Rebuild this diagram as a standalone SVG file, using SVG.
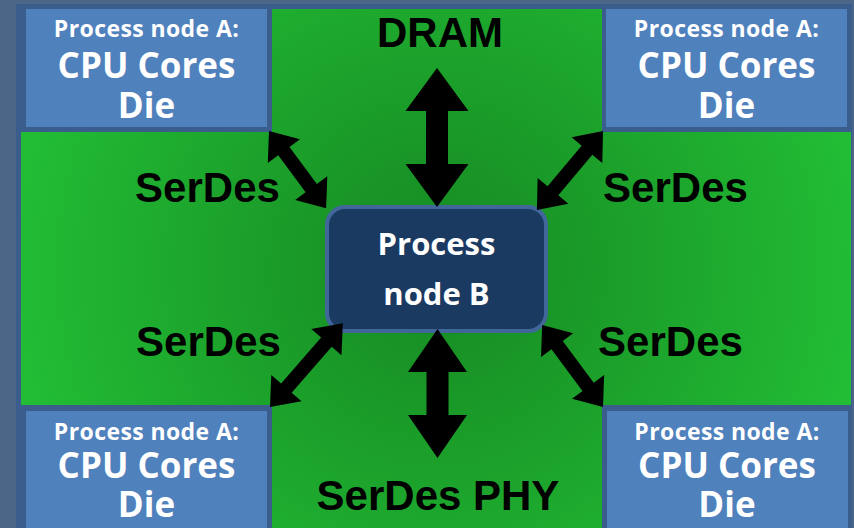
<svg xmlns="http://www.w3.org/2000/svg" width="854" height="528" viewBox="0 0 854 528">
  <defs>
    <radialGradient id="greenGlow" gradientUnits="userSpaceOnUse" cx="437" cy="268" r="430">
      <stop offset="0" stop-color="#168822"/>
      <stop offset="1" stop-color="#22bd35"/>
    </radialGradient>
  </defs>
  <style>
    .die { fill: #4f81bd; }
    .dieTitle { font-family: "Open Sans", "Liberation Sans", sans-serif; font-weight: bold; font-size: 23px; letter-spacing: 0.4px; fill: #ffffff; text-anchor: middle; }
    .dieName { font-family: "Open Sans", "Liberation Sans", sans-serif; font-weight: bold; font-size: 35px; fill: #ffffff; text-anchor: middle; }
    .hub { fill: #1b3a62; stroke: #41679a; stroke-width: 4; }
    .hubText { font-family: "Open Sans", "Liberation Sans", sans-serif; font-weight: bold; font-size: 31px; fill: #ffffff; text-anchor: middle; }
    .label { font-family: "Liberation Sans", Arial, sans-serif; font-weight: bold; font-size: 42px; fill: #000000; text-anchor: middle; }
    .arrow { fill: #000000; }
  </style>

  <!-- page background and package frame -->
  <rect x="0" y="0" width="854" height="528" fill="#4b6687"/>
  <rect x="16" y="4" width="836" height="524" fill="#3b5d8d"/>

  <!-- interposer area -->
  <path d="M21,132 H272 V9 H602 V132 H851 V405 H602 V528 H272 V405 H21 Z" fill="url(#greenGlow)"/>

  <!-- corner dies -->
  <g id="die-top-left">
    <rect class="die" x="26" y="9" width="241" height="118"/>
    <text class="dieTitle" x="146.5" y="37">Process node A:</text>
    <text class="dieName" x="146.5" y="78">CPU Cores</text>
    <text class="dieName" x="146.5" y="118">Die</text>
  </g>
  <g id="die-top-right">
    <rect class="die" x="606" y="9" width="241" height="118"/>
    <text class="dieTitle" x="726.5" y="37">Process node A:</text>
    <text class="dieName" x="726.5" y="78">CPU Cores</text>
    <text class="dieName" x="726.5" y="118">Die</text>
  </g>
  <g id="die-bottom-left">
    <rect class="die" x="26" y="411" width="241" height="117"/>
    <text class="dieTitle" x="146.5" y="440">Process node A:</text>
    <text class="dieName" x="146.5" y="478">CPU Cores</text>
    <text class="dieName" x="146.5" y="517">Die</text>
  </g>
  <g id="die-bottom-right">
    <rect class="die" x="607" y="411" width="241" height="117"/>
    <text class="dieTitle" x="727" y="440">Process node A:</text>
    <text class="dieName" x="727" y="478">CPU Cores</text>
    <text class="dieName" x="727" y="517">Die</text>
  </g>

  <!-- central die -->
  <g id="die-center">
    <rect class="hub" x="327" y="207" width="219" height="124" rx="18"/>
    <text class="hubText" x="436.5" y="255">Process</text>
    <text class="hubText" x="436.5" y="305">node B</text>
  </g>

  <!-- double-headed links -->
  <g id="connectors">
    <path class="arrow" transform="translate(269,131) rotate(53.5)" d="M0,0 L25,-20 L25,-7 L71,-7 L71,-20 L96,0 L71,20 L71,7 L25,7 L25,20 Z"/>
    <path class="arrow" transform="translate(603,131) rotate(129.9)" d="M0,0 L25,-20 L25,-7 L78,-7 L78,-20 L103,0 L78,20 L78,7 L25,7 L25,20 Z"/>
    <path class="arrow" transform="translate(270,407) rotate(-49)" d="M0,0 L25,-20 L25,-7 L86,-7 L86,-20 L111,0 L86,20 L86,7 L25,7 L25,20 Z"/>
    <path class="arrow" transform="translate(603,407) rotate(-126.6)" d="M0,0 L25,-20 L25,-7 L77,-7 L77,-20 L102,0 L77,20 L77,7 L25,7 L25,20 Z"/>
    <path class="arrow" transform="translate(437,68) rotate(90)" d="M0,0 L43,-31.5 L43,-11 L96,-11 L96,-31.5 L139,0 L96,31.5 L96,11 L43,11 L43,31.5 Z"/>
    <path class="arrow" transform="translate(437.5,329) rotate(90)" d="M0,0 L43,-29.5 L43,-11 L86,-11 L86,-29.5 L129,0 L86,29.5 L86,11 L43,11 L43,29.5 Z"/>
  </g>

  <!-- link labels -->
  <g id="labels">
    <text class="label" x="440" y="47">DRAM</text>
    <text class="label" x="207.5" y="202">SerDes</text>
    <text class="label" x="675.5" y="202">SerDes</text>
    <text class="label" x="208.5" y="356">SerDes</text>
    <text class="label" x="670.5" y="356">SerDes</text>
    <text class="label" x="438" y="510">SerDes PHY</text>
  </g>
</svg>
